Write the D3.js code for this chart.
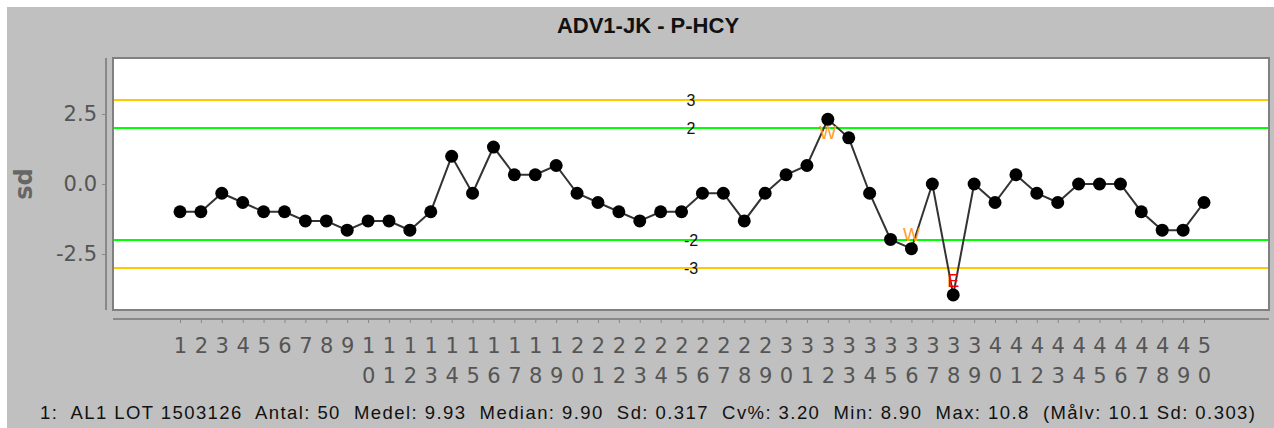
<!DOCTYPE html>
<html>
<head>
<meta charset="utf-8">
<script src="https://cdn.jsdelivr.net/npm/d3@7"></script>
<style>
  html, body { margin: 0; padding: 0; background: #fff; }
  svg { display: block; }
</style>
</head>
<body>
<div id="chart"></div>
<script>
// measured values, in run order (1..50)
const runNo = d3.range(1, 51);
const measured = [
  9.8, 9.8, 10.0, 9.9, 9.8, 9.8, 9.7, 9.7, 9.6, 9.7,
  9.7, 9.6, 9.8, 10.4, 10.0, 10.5, 10.2, 10.2, 10.3, 10.0,
  9.9, 9.8, 9.7, 9.8, 9.8, 10.0, 10.0, 9.7, 10.0, 10.2,
  10.3, 10.8, 10.6, 10.0, 9.5, 9.4, 10.1, 8.9, 10.1, 9.9,
  10.2, 10.0, 9.9, 10.1, 10.1, 10.1, 9.8, 9.6, 9.6, 9.9
];
const target = 10.1, targetSd = 0.303;

// control limits (in sd)
const limits = [
  { v: 3, label: '3', color: '#ffc800' },
  { v: 2, label: '2', color: '#00ff00' },
  { v: -2, label: '-2', color: '#00ff00' },
  { v: -3, label: '-3', color: '#ffc800' }
];
// rule flags on points
const flags = [
  { run: 32, text: 'W', color: '#ff9c2a' },
  { run: 36, text: 'W', color: '#ff9c2a' },
  { run: 38, text: 'E', color: '#ff0000' }
];
const yTicks = [2.5, 0, -2.5];
const title = 'ADV1-JK - P-HCY';
const footer = '1:  AL1 LOT 1503126  Antal: 50  Medel: 9.93  Median: 9.90  Sd: 0.317  Cv%: 3.20  Min: 8.90  Max: 10.8  (Målv: 10.1 Sd: 0.303)';

const W = 1274, H = 428;
const plot = { left: 113, right: 1269, top: 58, bottom: 310 };
const gray = '#555';
const font = '"Liberation Sans", Arial, sans-serif';
const tickFont = '"DejaVu Sans", sans-serif';

const data = runNo.map((r, i) => ({ run: r, z: (measured[i] - target) / targetSd }));

const x = d3.scaleLinear().domain([-2.206, 53.11]).range([plot.left, plot.right]);
const y = d3.scaleLinear().domain([-4.5, 4.5]).range([plot.bottom, plot.top]);

const svg = d3.select('#chart').append('svg')
  .attr('width', W).attr('height', H);

svg.append('rect').attr('x', 7).attr('y', 7)
  .attr('width', W - 7).attr('height', H - 7).attr('fill', '#c0c0c0');

svg.append('text')
  .attr('x', 648).attr('y', 33)
  .attr('text-anchor', 'middle')
  .attr('font-family', font).attr('font-weight', 'bold').attr('font-size', 22)
  .attr('fill', '#111')
  .text(title);

// plot area
svg.append('rect')
  .attr('x', plot.left).attr('y', plot.top)
  .attr('width', plot.right - plot.left).attr('height', plot.bottom - plot.top)
  .attr('fill', '#fff').attr('stroke', '#808080').attr('stroke-width', 2);

// y axis
const yAxis = svg.append('g').attr('transform', 'translate(106,0)')
  .call(d3.axisLeft(y).tickValues(yTicks).tickSize(4).tickFormat(d => d.toFixed(1).replace('−', '-')));
yAxis.select('.domain').attr('stroke', '#888').attr('stroke-width', 2)
  .attr('d', `M0,${plot.top}V${plot.bottom}`);
yAxis.selectAll('.tick line').attr('stroke', '#888');
yAxis.selectAll('.tick text')
  .attr('font-family', tickFont).attr('font-size', 21).attr('fill', gray).attr('x', -9);

svg.append('text')
  .attr('transform', `translate(32,${(plot.top + plot.bottom) / 2}) rotate(-90)`)
  .attr('text-anchor', 'middle')
  .attr('font-family', tickFont).attr('font-weight', 'bold').attr('font-size', 24).attr('fill', '#666')
  .text('sd');

// x axis
const xAxis = svg.append('g').attr('transform', 'translate(0,319)')
  .call(d3.axisBottom(x).tickValues(runNo).tickSize(4).tickFormat(''));
xAxis.select('.domain').attr('stroke', '#888').attr('stroke-width', 2)
  .attr('d', `M${plot.left},0H${plot.right}`);
xAxis.selectAll('.tick line').attr('stroke', '#888');
xAxis.selectAll('.tick').each(function (d) {
  const s = String(d);
  const t = d3.select(this).append('text')
    .attr('text-anchor', 'middle')
    .attr('font-family', tickFont).attr('font-size', 21).attr('fill', gray);
  s.split('').forEach((ch, k) => {
    t.append('tspan').attr('x', 0).attr('y', 34 + k * 30).text(ch);
  });
});

// limit lines
const lim = svg.append('g');
lim.selectAll('line').data(limits).join('line')
  .attr('x1', plot.left + 1).attr('x2', plot.right - 1)
  .attr('y1', d => y(d.v)).attr('y2', d => y(d.v))
  .attr('stroke', d => d.color).attr('stroke-width', 2);
lim.selectAll('text').data(limits).join('text')
  .attr('x', (plot.left + plot.right) / 2).attr('y', d => y(d.v) + 6)
  .attr('text-anchor', 'middle')
  .attr('font-family', font).attr('font-size', 16).attr('fill', '#111')
  .text(d => d.label);

// series
svg.append('path').datum(data)
  .attr('fill', 'none').attr('stroke', '#333').attr('stroke-width', 2)
  .attr('d', d3.line().x(d => x(d.run)).y(d => y(d.z)));
svg.append('g').selectAll('circle').data(data).join('circle')
  .attr('cx', d => x(d.run)).attr('cy', d => y(d.z)).attr('r', 6.5)
  .attr('fill', '#000');

// flags sit just inside the point, toward the centre line
svg.append('g').selectAll('text').data(flags).join('text')
  .attr('x', d => x(d.run))
  .attr('y', d => {
    const z = data[d.run - 1].z;
    return y(z) + (z > 0 ? 14 : -14) + 6;
  })
  .attr('text-anchor', 'middle')
  .attr('font-family', font).attr('font-size', 18).attr('fill', d => d.color)
  .text(d => d.text);

svg.append('text')
  .attr('x', 40).attr('y', 419)
  .attr('xml:space', 'preserve')
  .attr('textLength', 1215).attr('lengthAdjust', 'spacing')
  .attr('font-family', font).attr('font-size', 18.5).attr('fill', '#111')
  .text(footer);
</script>
</body>
</html>
